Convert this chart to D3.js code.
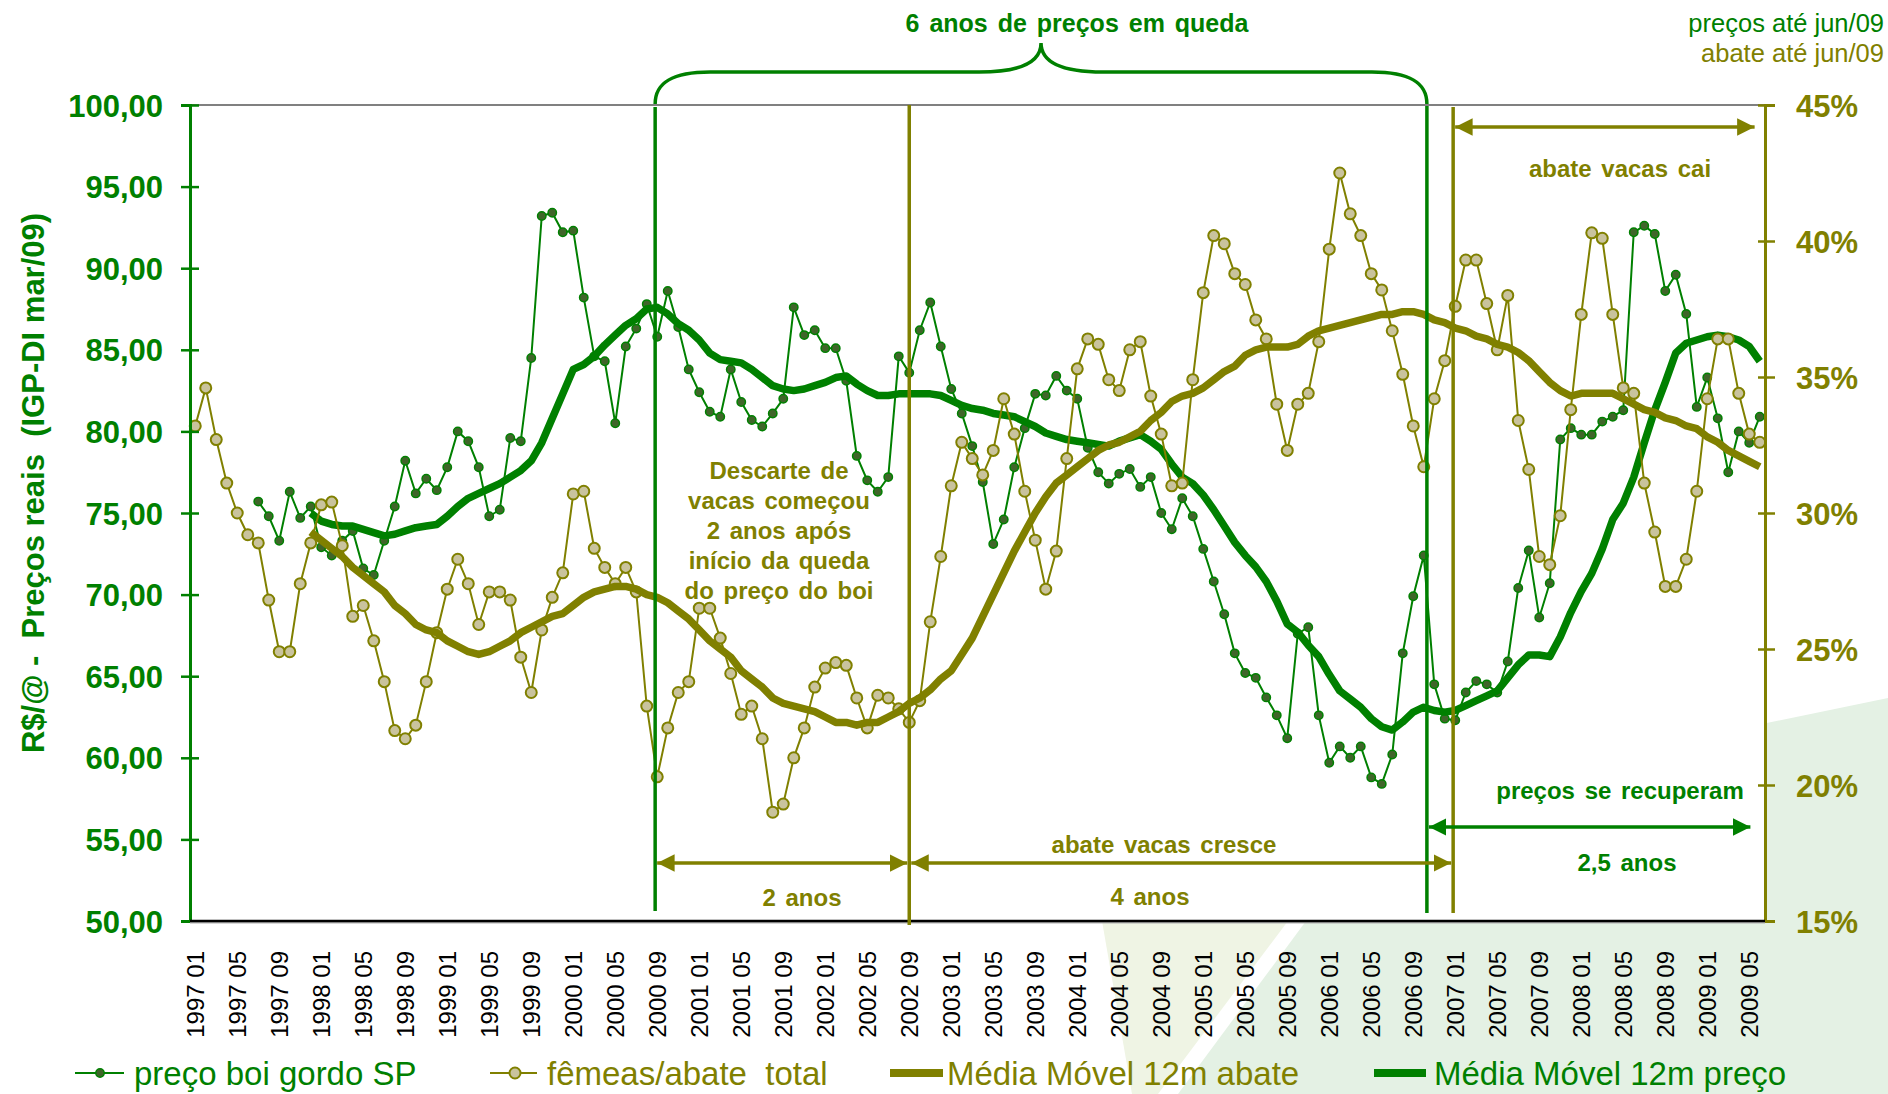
<!DOCTYPE html>
<html>
<head>
<meta charset="utf-8">
<script src="https://cdn.jsdelivr.net/npm/d3@7"></script>
<style>
body { margin: 0; background: #fff; overflow: hidden; }
text { font-family: "Liberation Sans", Arial, sans-serif; }
</style>
</head>
<body>
<div id="chart"></div>
<script>
// ------------------------------------------------------------------
//	boi gordo x abate de femeas - 1997/01 a 2009/06
// ------------------------------------------------------------------
const verde = "#008000"
const oliva = "#808000"

// months 1997 01 .. 2009 06 (150 categories)
const anoInicial = 1997
const months = d3.range(150).map(i => (anoInicial + Math.floor(i / 12)) + " " + String(i % 12 + 1).padStart(2, "0"))
const tickMonths = months.filter((d, i) => i % 4 === 0)

const ticksLeft = [50, 55, 60, 65, 70, 75, 80, 85, 90, 95, 100]
const ticksRight = [15, 20, 25, 30, 35, 40, 45]

// preço boi gordo SP (R$/@, IGP-DI mar/09)
const preco = [
  null, null, null, null, null, null, 75.7, 74.8, 73.3, 76.3,
  74.7, 75.4, 72.9, 72.4, 73.3, 73.9, 71.6, 71.2, 73.3, 75.4,
  78.2, 76.2, 77.1, 76.4, 77.8, 80.0, 79.4, 77.8, 74.8, 75.2,
  79.6, 79.4, 84.5, 93.2, 93.4, 92.2, 92.3, 88.2, 84.6, 84.3,
  80.5, 85.2, 86.3, 87.8, 85.8, 88.6, 86.4, 83.8, 82.4, 81.2,
  80.9, 83.8, 81.8, 80.7, 80.3, 81.1, 82.0, 87.6, 85.9, 86.2,
  85.1, 85.1, 83.1, 78.5, 77.0, 76.3, 77.2, 84.6, 83.6, 86.2,
  87.9, 85.2, 82.6, 81.1, 79.1, 76.9, 73.1, 74.6, 77.8, 80.2,
  82.3, 82.2, 83.4, 82.5, 82.0, 79.0, 77.5, 76.8, 77.4, 77.7,
  76.6, 77.2, 75.0, 74.0, 75.9, 74.8, 72.8, 70.8, 68.8, 66.4,
  65.2, 64.9, 63.7, 62.6, 61.2, 67.6, 68.0, 62.6, 59.7, 60.7,
  60.0, 60.7, 58.8, 58.4, 60.2, 66.4, 69.9, 72.4, 64.5, 62.4,
  62.3, 64.0, 64.7, 64.5, 64.0, 65.9, 70.4, 72.7, 68.6, 70.7,
  79.5, 80.2, 79.8, 79.8, 80.6, 80.9, 81.3, 92.2, 92.6, 92.1,
  88.6, 89.6, 87.2, 81.5, 83.3, 80.8, 77.5, 80.0, 79.3, 80.9
]

// fêmeas / abate total (%)
const femeas = [
  33.2, 34.6, 32.7, 31.1, 30.0, 29.2, 28.9, 26.8, 24.9, 24.9,
  27.4, 28.9, 30.3, 30.4, 28.8, 26.2, 26.6, 25.3, 23.8, 22.0,
  21.7, 22.2, 23.8, 25.6, 27.2, 28.3, 27.4, 25.9, 27.1, 27.1,
  26.8, 24.7, 23.4, 25.7, 26.9, 27.8, 30.7, 30.8, 28.7, 28.0,
  27.4, 28.0, 27.1, 22.9, 20.3, 22.1, 23.4, 23.8, 26.5, 26.5,
  25.4, 24.1, 22.6, 22.9, 21.7, 19.0, 19.3, 21.0, 22.1, 23.6,
  24.3, 24.5, 24.4, 23.2, 22.1, 23.3, 23.2, 22.8, 22.3, 23.1,
  26.0, 28.4, 31.0, 32.6, 32.0, 31.4, 32.3, 34.2, 32.9, 30.8,
  29.0, 27.2, 28.6, 32.0, 35.3, 36.4, 36.2, 34.9, 34.5, 36.0,
  36.3, 34.3, 32.9, 31.0, 31.1, 34.9, 38.1, 40.2, 39.9, 38.8,
  38.4, 37.1, 36.4, 34.0, 32.3, 34.0, 34.4, 36.3, 39.7, 42.5,
  41.0, 40.2, 38.8, 38.2, 36.7, 35.1, 33.2, 31.7, 34.2, 35.6,
  37.6, 39.3, 39.3, 37.7, 36.0, 38.0, 33.4, 31.6, 28.4, 28.1,
  29.9, 33.8, 37.3, 40.3, 40.1, 37.3, 34.6, 34.4, 31.1, 29.3,
  27.3, 27.3, 28.3, 30.8, 34.2, 36.4, 36.4, 34.4, 32.9, 32.6
]

// média móvel 12m abate (%)
const mmAbate = [
  null, null, null, null, null, null, null, null, null, null,
  null, 29.3, 29.0, 28.7, 28.4, 28.0, 27.7, 27.4, 27.1, 26.6,
  26.3, 25.9, 25.7, 25.6, 25.3, 25.1, 24.9, 24.8, 24.9, 25.1,
  25.3, 25.6, 25.8, 26.0, 26.2, 26.3, 26.6, 26.9, 27.1, 27.2,
  27.3, 27.3, 27.2, 27.0, 26.9, 26.7, 26.4, 26.1, 25.7, 25.3,
  25.0, 24.7, 24.2, 23.9, 23.6, 23.2, 23.0, 22.9, 22.8, 22.7,
  22.5, 22.3, 22.3, 22.2, 22.3, 22.3, 22.5, 22.7, 23.0, 23.2,
  23.5, 23.9, 24.2, 24.8, 25.4, 26.2, 27.0, 27.8, 28.6, 29.3,
  30.0, 30.6, 31.1, 31.4, 31.7, 32.0, 32.3, 32.5, 32.6, 32.8,
  33.0, 33.4, 33.7, 34.1, 34.3, 34.4, 34.6, 34.9, 35.2, 35.4,
  35.8, 36.0, 36.1, 36.1, 36.1, 36.2, 36.5, 36.7, 36.8, 36.9,
  37.0, 37.1, 37.2, 37.3, 37.3, 37.4, 37.4, 37.3, 37.1, 37.0,
  36.8, 36.7, 36.5, 36.4, 36.2, 36.1, 35.9, 35.6, 35.2, 34.8,
  34.5, 34.3, 34.4, 34.4, 34.4, 34.4, 34.2, 34.0, 33.8, 33.7,
  33.5, 33.4, 33.2, 33.1, 32.8, 32.6, 32.3, 32.1, 31.9, 31.7
]

// média móvel 12m preço (R$/@)
const mmPreco = [
  null, null, null, null, null, null, null, null, null, null,
  null, 75.0, 74.5, 74.3, 74.2, 74.2, 74.0, 73.8, 73.6, 73.7,
  73.9, 74.1, 74.2, 74.3, 74.8, 75.4, 75.9, 76.2, 76.5, 76.8,
  77.2, 77.6, 78.2, 79.3, 80.8, 82.3, 83.8, 84.1, 84.6, 85.3,
  85.9, 86.5, 86.9, 87.5, 87.6, 87.2, 86.6, 86.2, 85.6, 84.8,
  84.4, 84.3, 84.2, 83.8, 83.3, 82.8, 82.6, 82.5, 82.6, 82.8,
  83.0, 83.3, 83.4, 82.9, 82.5, 82.2, 82.2, 82.3, 82.3, 82.3,
  82.3, 82.2, 81.9, 81.6, 81.4, 81.3, 81.1, 81.0, 80.9, 80.6,
  80.3, 79.9, 79.7, 79.5, 79.4, 79.3, 79.2, 79.1, 79.4, 79.6,
  79.8, 79.4, 78.9, 78.0, 77.2, 76.8, 76.1, 75.2, 74.2, 73.2,
  72.4, 71.7, 70.8, 69.6, 68.2, 67.7, 66.9, 66.2, 65.1, 64.1,
  63.6, 63.1, 62.4, 61.9, 61.7, 62.2, 62.8, 63.1, 62.9, 62.8,
  62.9, 63.2, 63.5, 63.8, 64.1, 64.9, 65.7, 66.3, 66.3, 66.2,
  67.4, 68.9, 70.2, 71.3, 72.8, 74.6, 75.6, 77.2, 79.3, 81.3,
  83.0, 84.8, 85.4, 85.6, 85.8, 85.9, 85.8, 85.6, 85.2, 84.3
]

// annotation marks, as month positions (index, fractional)
const marcoVerde1 = 43.8
const marcoOliva1 = 68.0
const marcoVerde2 = 117.3
const marcoOliva2 = 119.8
const fimSeta = 148.3

// ------------------------------------------------------------------
const W = 1888, H = 1094
const margin = {top: 105, right: 123, bottom: 173, left: 190}
const x0 = margin.left, x1 = W - margin.right
const y0 = margin.top, y1 = H - margin.bottom

const svg = d3.select("#chart").append("svg")
    .attr("width", W)
    .attr("height", H)

const x = d3.scaleBand().domain(months).range([x0, x1]).padding(0)
const xc = d => x(d) + x.bandwidth() / 2
const xPos = p => x0 + (p + 0.5) * x.bandwidth()
const yL = d3.scaleLinear().domain([50, 100]).range([y1, y0])
const yR = d3.scaleLinear().domain([15, 45]).range([y1, y0])

// background swoosh (slide)
svg.append("polygon")
    .attr("points", "1102,921 1288,921 1158,1094 1132,1094")
    .attr("fill", "#eff4e4")
svg.append("polygon")
    .attr("points", "1178,1094 1306,921 1500,778 1888,698 1888,1094")
    .attr("fill", "#e4f1e4")

// plot area
svg.append("rect")
    .attr("x", x0).attr("y", y0)
    .attr("width", x1 - x0).attr("height", y1 - y0)
    .attr("fill", "#fff")
    .attr("stroke", "#808080")
    .attr("stroke-width", 2)

// ---- series
const linePreco = d3.line().defined(d => d[1] != null).x(d => xc(d[0])).y(d => yL(d[1]))
const lineAbate = d3.line().defined(d => d[1] != null).x(d => xc(d[0])).y(d => yR(d[1]))

const pPreco = months.map((m, i) => [m, preco[i]])
const pFemeas = months.map((m, i) => [m, femeas[i]])
const pMmAbate = months.map((m, i) => [m, mmAbate[i]])
const pMmPreco = months.map((m, i) => [m, mmPreco[i]])

svg.append("path")
    .attr("d", linePreco(pPreco))
    .attr("fill", "none").attr("stroke", verde).attr("stroke-width", 2)
svg.selectAll(".mk-preco")
    .data(pPreco.filter(d => d[1] != null))
  .enter().append("circle")
    .attr("class", "mk-preco")
    .attr("cx", d => xc(d[0])).attr("cy", d => yL(d[1]))
    .attr("r", 4.2)
    .attr("fill", "#40652a").attr("stroke", verde).attr("stroke-width", 1.5)

svg.append("path")
    .attr("d", linePreco(pMmPreco))
    .attr("fill", "none").attr("stroke", verde).attr("stroke-width", 7.5)
    .attr("stroke-linejoin", "round")

svg.append("path")
    .attr("d", lineAbate(pFemeas))
    .attr("fill", "none").attr("stroke", oliva).attr("stroke-width", 2)
svg.selectAll(".mk-femeas")
    .data(pFemeas)
  .enter().append("circle")
    .attr("class", "mk-femeas")
    .attr("cx", d => xc(d[0])).attr("cy", d => yR(d[1]))
    .attr("r", 5.5)
    .attr("fill", "#c9c39d").attr("stroke", oliva).attr("stroke-width", 2)

svg.append("path")
    .attr("d", lineAbate(pMmAbate))
    .attr("fill", "none").attr("stroke", oliva).attr("stroke-width", 7.5)
    .attr("stroke-linejoin", "round")

// ---- axes
const fmtL = d => d3.format(".2f")(d).replace(".", ",")
const gL = svg.append("g")
    .attr("transform", "translate(" + x0 + ",0)")
    .call(d3.axisLeft(yL).tickValues(ticksLeft).tickFormat(fmtL).tickSize(9))
gL.select(".domain").attr("stroke", verde).attr("stroke-width", 3)
gL.selectAll(".tick line").attr("x1", 9).attr("x2", -9).attr("stroke", verde).attr("stroke-width", 2.5)
gL.selectAll(".tick text")
    .attr("x", -27).attr("dy", "0.36em")
    .attr("fill", verde)
    .style("font-size", "31px").style("font-weight", "bold")
    .style("font-family", "'Liberation Sans', Arial, sans-serif")

const gR = svg.append("g")
    .attr("transform", "translate(" + x1 + ",0)")
    .call(d3.axisRight(yR).tickValues(ticksRight).tickFormat(d => d + "%").tickSize(10))
gR.select(".domain").attr("stroke", oliva).attr("stroke-width", 3)
gR.selectAll(".tick line").attr("x1", -7).attr("x2", 10).attr("stroke", oliva).attr("stroke-width", 2.5)
gR.selectAll(".tick text")
    .attr("x", 31).attr("dy", "0.36em")
    .attr("fill", oliva)
    .style("font-size", "31px").style("font-weight", "bold")
    .style("font-family", "'Liberation Sans', Arial, sans-serif")

// bottom axis
svg.append("line")
    .attr("x1", x0).attr("x2", x1).attr("y1", y1 + 1.5).attr("y2", y1 + 1.5)
    .attr("stroke", "#b0b0b0").attr("stroke-width", 2)
svg.append("line")
    .attr("x1", x0).attr("x2", x1).attr("y1", y1).attr("y2", y1)
    .attr("stroke", "#000").attr("stroke-width", 2.5)

const gX = svg.append("g")
    .attr("transform", "translate(0," + y1 + ")")
    .call(d3.axisBottom(x).tickValues(tickMonths).tickSize(0))
gX.select(".domain").remove()
gX.selectAll(".tick text")
    .attr("transform", "rotate(-90)")
    .attr("x", -30).attr("y", 0).attr("dy", "0.36em")
    .style("text-anchor", "end")
    .attr("fill", "#000")
    .style("font-size", "24px")
    .style("font-family", "'Liberation Sans', Arial, sans-serif")

// y title
svg.append("text")
    .attr("transform", "translate(44,483) rotate(-90)")
    .attr("text-anchor", "middle")
    .attr("fill", verde)
    .style("font-size", "31px").style("font-weight", "bold")
    .style("white-space", "pre")
    .text("R$/@ -  Preços reais  (IGP-DI mar/09)")

// ---- annotations
const vline = (p, cor, ya, yb) => svg.append("line")
    .attr("x1", xPos(p)).attr("x2", xPos(p)).attr("y1", ya).attr("y2", yb)
    .attr("stroke", cor).attr("stroke-width", 3.5)
vline(marcoVerde1, verde, 107, 911)
vline(marcoOliva1, oliva, 105, 925)
vline(marcoVerde2, verde, 106, 913)
vline(marcoOliva2, oliva, 107, 913)

// arrow heads
const defs = svg.append("defs")
;[["ah-verde", verde], ["ah-oliva", oliva]].forEach(([id, cor]) => {
  defs.append("marker")
      .attr("id", id)
      .attr("viewBox", "0 0 10 10")
      .attr("refX", 10).attr("refY", 5)
      .attr("markerWidth", 5).attr("markerHeight", 5)
      .attr("markerUnits", "strokeWidth")
      .attr("orient", "auto-start-reverse")
    .append("path")
      .attr("d", "M0,0 L10,5 L0,10 Z")
      .attr("fill", cor)
})
const seta = (pa, pb, y, cor, id) => svg.append("line")
    .attr("x1", xPos(pa) + 2).attr("x2", xPos(pb) - 2).attr("y1", y).attr("y2", y)
    .attr("stroke", cor).attr("stroke-width", 3.5)
    .attr("marker-start", "url(#" + id + ")")
    .attr("marker-end", "url(#" + id + ")")
seta(marcoVerde1, marcoOliva1, 863, oliva, "ah-oliva")
seta(marcoOliva1, marcoOliva2, 863, oliva, "ah-oliva")
seta(marcoVerde2, fimSeta, 827, verde, "ah-verde")
seta(marcoOliva2, fimSeta + 0.4, 127, oliva, "ah-oliva")

// brace "6 anos"
const bx1 = xPos(marcoVerde1), bx2 = xPos(marcoVerde2), bm = (bx1 + bx2) / 2
svg.append("path")
    .attr("d", "M" + bx1 + ",104 C" + bx1 + ",82 " + (bx1 + 18) + ",72 " + (bx1 + 55) + ",72" +
               " L" + (bm - 62) + ",72 C" + (bm - 20) + ",72 " + bm + ",62 " + bm + ",43" +
               " C" + bm + ",62 " + (bm + 20) + ",72 " + (bm + 62) + ",72" +
               " L" + (bx2 - 55) + ",72 C" + (bx2 - 18) + ",72 " + bx2 + ",82 " + bx2 + ",104")
    .attr("fill", "none").attr("stroke", verde).attr("stroke-width", 3.5)

const nota = (txt, xx, yy, cor, size, anchor) => svg.append("text")
    .attr("x", xx).attr("y", yy)
    .attr("text-anchor", anchor || "middle")
    .attr("fill", cor)
    .style("font-size", size + "px")
    .style("font-weight", "bold")
    .style("word-spacing", "3px")
    .text(txt)

nota("6 anos de preços em queda", 1077, 32, verde, 25)
const descarte = ["Descarte de", "vacas começou", "2 anos após", "início da queda", "do preço do boi"]
descarte.forEach((t, i) => nota(t, 779, 479 + i * 30, oliva, 24))
nota("abate vacas cai", 1620, 177, oliva, 24)
nota("abate vacas cresce", 1164, 853, oliva, 24)
nota("2 anos", 802, 906, oliva, 24)
nota("4 anos", 1150, 905, oliva, 24)
nota("preços se recuperam", 1620, 799, verde, 24)
nota("2,5 anos", 1627, 871, verde, 24)

svg.append("text")
    .attr("x", 1884).attr("y", 32).attr("text-anchor", "end")
    .attr("fill", verde).style("font-size", "25.5px")
    .text("preços até jun/09")
svg.append("text")
    .attr("x", 1884).attr("y", 62).attr("text-anchor", "end")
    .attr("fill", oliva).style("font-size", "25.5px")
    .text("abate até jun/09")

// ---- legend
const ly = 1073
const leg = svg.append("g")
leg.append("line").attr("x1", 75).attr("x2", 124).attr("y1", ly).attr("y2", ly)
    .attr("stroke", verde).attr("stroke-width", 2)
leg.append("circle").attr("cx", 100).attr("cy", ly).attr("r", 4.2)
    .attr("fill", "#40652a").attr("stroke", verde).attr("stroke-width", 1.5)
leg.append("line").attr("x1", 490).attr("x2", 537).attr("y1", ly).attr("y2", ly)
    .attr("stroke", oliva).attr("stroke-width", 2)
leg.append("circle").attr("cx", 515).attr("cy", ly).attr("r", 5.5)
    .attr("fill", "#c9c39d").attr("stroke", oliva).attr("stroke-width", 2)
leg.append("line").attr("x1", 890).attr("x2", 943).attr("y1", ly).attr("y2", ly)
    .attr("stroke", oliva).attr("stroke-width", 8)
leg.append("line").attr("x1", 1374).attr("x2", 1426).attr("y1", ly).attr("y2", ly)
    .attr("stroke", verde).attr("stroke-width", 8)

const legTxt = [["preço boi gordo SP", 134, verde], ["fêmeas/abate  total", 547, oliva],
                ["Média Móvel 12m abate", 947, oliva], ["Média Móvel 12m preço", 1434, verde]]
legTxt.forEach(([t, xx, cor]) => leg.append("text")
    .attr("x", xx).attr("y", ly + 12)
    .attr("fill", cor)
    .style("font-size", "33px")
    .style("white-space", "pre")
    .text(t))
</script>
</body>
</html>
